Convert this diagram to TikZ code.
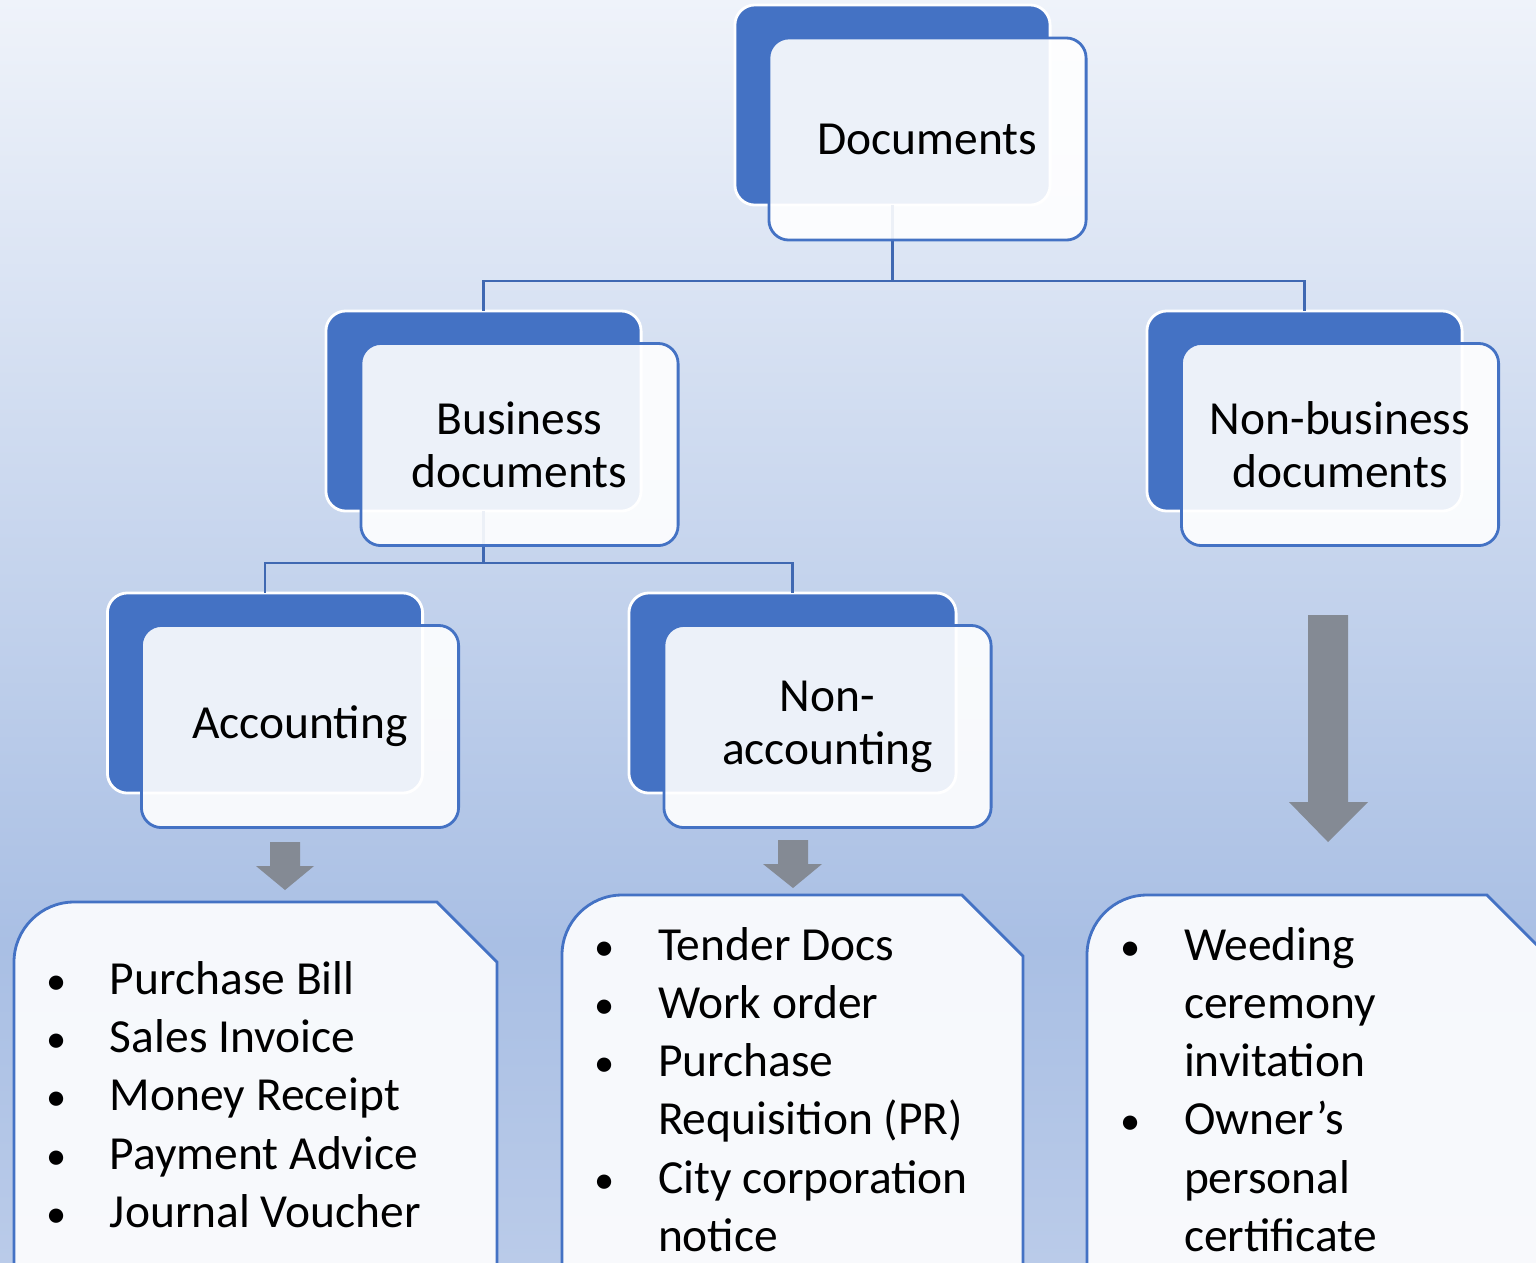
\documentclass[tikz,border=0pt]{standalone}
\usepackage{fontspec}
\setmainfont{Carlito}
\usetikzlibrary{calc}
\definecolor{docblue}{HTML}{4472C4}
\definecolor{linkblue}{HTML}{3F68B2}
\definecolor{arrowgray}{HTML}{848A94}
\definecolor{bgtop}{HTML}{EFF3FA}
\definecolor{bgmid}{HTML}{A9BFE4}
\definecolor{bgbot}{HTML}{BACBE9}
\newcommand{\bul}{\llap{\scalebox{0.85}{\textbullet}\hspace{0.43cm}}}

\begin{document}
\begin{tikzpicture}[x=0.01cm, y=-0.01cm, outer sep=0pt,
  back/.style={draw=white, line width=0.8pt, fill=docblue, rounded corners=0.2cm,
    minimum width=3.15cm, minimum height=2cm},
  front/.style={draw=docblue, line width=0.8pt, fill=white, fill opacity=0.9, text opacity=1,
    rounded corners=0.2cm, minimum width=3.17cm, minimum height=2.02cm, align=center,
    font=\fontsize{13.5}{15.1}\selectfont},
  link/.style={draw=linkblue, line width=0.8pt},
  listbox/.style={draw=docblue, line width=0.8pt, fill=white, fill opacity=0.9},
  items/.style={anchor=base west, inner sep=0pt, align=left,
    font=\fontsize{13.5}{16.5}\selectfont},
  grayarrow/.style={fill=arrowgray}]

\useasboundingbox (0,0) rectangle (1536,1262);
\clip (0,0) rectangle (1536,1262);
\shade[top color=bgtop, bottom color=bgmid] (0,0) rectangle (1536,946);
\shade[top color=bgmid, bottom color=bgbot] (0,946) rectangle (1536,1262);

% back boxes
\node[back] at (892.5,105) (Db) {};
\node[back] at (483.5,411) (Bb) {};
\node[back] at (1304.5,411) (Nb) {};
\node[back] at (265,693) (Ab) {};
\node[back, minimum width=3.27cm] at (792.5,693) (NAb) {};

% tree lines
\draw[link] (Db.south) -- ++(0,76) -| (Bb.north);
\draw[link] (Db.south) -- ++(0,76) -| (Nb.north);
\draw[link] (Bb.south) -- ++(0,52) -| (Ab.north);
\draw[link] (Bb.south) -- ++(0,52) -| (NAb.north);

% front boxes
\node[front] at (927.5,139) (D) {Documents};
\node[front] at (519.5,444.5) (B) {Business\\documents};
\node[front] at (1340,444.5) (N) {Non-business\\documents};
\node[front] at (300,726.5) (A) {Accounting};
\node[front, minimum width=3.27cm] at (827.5,726.5) (NA) {Non-\\accounting};

% block arrows
\fill[grayarrow] (270,842) -- (300,842) -- (300,866) -- (314,866) -- (285,890) -- (256,866) -- (270,866) -- cycle;
\fill[grayarrow] (778,840) -- (808,840) -- (808,864) -- (822,864) -- (793,888) -- (763,864) -- (778,864) -- cycle;
\fill[grayarrow] (1308,615) -- (1348,615) -- (1348,802) -- (1368,802) -- (1328,842) -- (1289,802) -- (1308,802) -- cycle;

% lists (anchored on the baseline of their last line)
\draw[listbox] (14,1280) -- (14,962) .. controls (14,929) and (41,902) .. (74,902)
  -- (437,902) -- (497,962) -- (497,1280);
\draw[listbox] (562,1280) -- (562,955) .. controls (562,922) and (589,895) .. (622,895)
  -- (962,895) -- (1023,956) -- (1023,1280);
\draw[listbox] (1087,1280) -- (1087,955) .. controls (1087,922) and (1114,895) .. (1147,895)
  -- (1487,895) -- (1548,956) -- (1548,1280);

\node[items] at (110,1227) (accList) {\bul Purchase Bill\\\bul Sales Invoice\\\bul Money Receipt\\\bul Payment Advice\\\bul Journal Voucher};
\node[items] at (658,1251) (nonaccList) {\bul Tender Docs\\\bul Work order\\\bul Purchase\\Requisition (PR)\\\bul City corporation\\notice};
\node[items] at (1184,1251) (nonbusList) {\bul Weeding\\ceremony\\invitation\\\bul Owner’s\\personal\\certificate};
\end{tikzpicture}
\end{document}
